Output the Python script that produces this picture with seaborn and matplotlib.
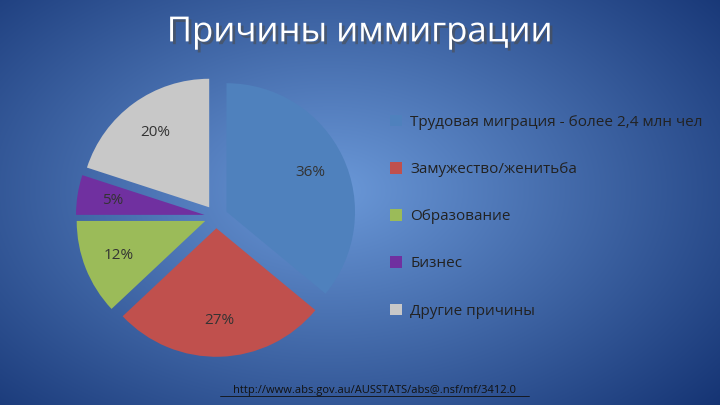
import numpy as np
import matplotlib
matplotlib.use("Agg")
import matplotlib.pyplot as plt
import matplotlib.patheffects as pe
import seaborn as sns

sns.set_theme(style="white")
plt.rcParams['font.family'] = ['Open Sans', 'DejaVu Sans']

categories = ["Трудовая миграция - более 2,4 млн чел", "Замужество/женитьба",
              "Образование", "Бизнес", "Другие причины"]
values = [36, 27, 12, 5, 20]
colors = ["#4F81BD", "#C0504D", "#9BBB59", "#7030A0", "#C8C8C8"]

fig = plt.figure(figsize=(7.2, 4.05), dpi=100)

# radial blue background
bg = fig.add_axes([0, 0, 1, 1])
yy, xx = np.mgrid[0:405, 0:720]
r = np.sqrt(((xx - 330) / 520) ** 2 + ((yy - 190) / 330) ** 2)
r = np.clip(r, 0, 1)
c0 = np.array([0.42, 0.60, 0.85])
c1 = np.array([0.08, 0.20, 0.45])
img = c0[None, None, :] * (1 - r[..., None]) + c1[None, None, :] * r[..., None]
bg.imshow(img, aspect="auto")
bg.axis("off")

ax = fig.add_axes([0.08, 0.1, 0.44, 0.73])
wedges, texts, autotexts = ax.pie(
    values, colors=colors, startangle=90, counterclock=False,
    explode=[0.09] * 5, autopct="%d%%", pctdistance=0.72,
    wedgeprops=dict(linewidth=0),
    textprops=dict(color="#333333", fontsize=11))
ax.set_aspect("equal")
ax.set_xlim(-1.2, 1.2)
ax.set_ylim(-1.15, 1.15)

ax.legend(wedges, categories, loc="center left", bbox_to_anchor=(1.02, 0.5),
          frameon=False, labelspacing=2.1, handlelength=0.8, handleheight=0.8,
          handletextpad=0.5, prop=dict(size=11), labelcolor="#222222")

fig.text(0.5, 0.92, "Причины иммиграции", ha="center", va="center",
         fontsize=25, color="white",
         path_effects=[pe.withSimplePatchShadow(offset=(2, -2), alpha=0.6)])
fig.text(0.52, 0.035, "http://www.abs.gov.au/AUSSTATS/abs@.nsf/mf/3412.0",
         ha="center", va="center", fontsize=8, color="#111111")
fig.add_artist(plt.Line2D([0.305, 0.735], [0.022, 0.022], color="#111111", lw=0.6))

fig.savefig("out.png", dpi=100)
